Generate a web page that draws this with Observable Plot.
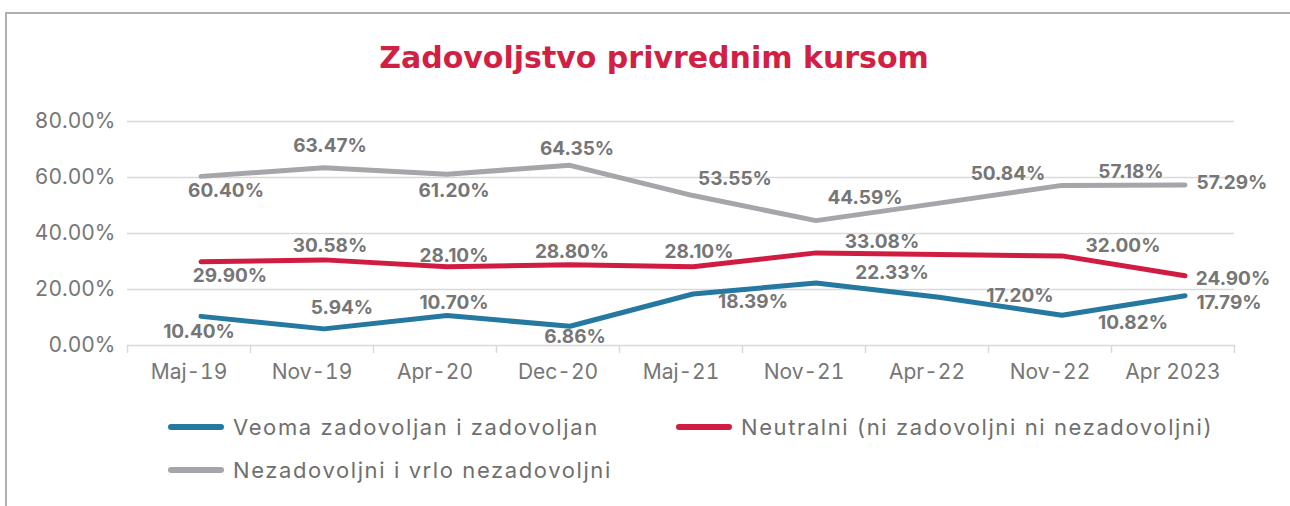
<!DOCTYPE html>
<html>
<head>
<meta charset="utf-8">
<script src="https://cdn.jsdelivr.net/npm/d3@7"></script>
<script src="https://cdn.jsdelivr.net/npm/@observablehq/plot@0.6"></script>
<style>
  html, body { margin: 0; padding: 0; background: #fff; }
  #frame { position: relative; width: 1290px; height: 506px; overflow: hidden; font-family: Inter, "Open Sans", sans-serif; }
  #border { position: absolute; left: 5px; top: 12px; right: -10px; bottom: -10px; border-top: 2px solid #b0b0b0; border-left: 2px solid #b0b0b0; }
  #title { position: relative; height: 100px; box-sizing: border-box; padding-top: 40px; line-height: 36px; text-align: center; font-family: "DejaVu Sans", Inter, sans-serif; font-size: 30px; font-weight: 700; color: #d21f44; padding-left: 18px; }
  #chart { position: relative; height: 300px; }
  #legend { position: relative; height: 106px; }
  .item { position: absolute; display: flex; align-items: center; height: 30px; font-size: 22px; letter-spacing: 1.6px; color: #6f6f6f; white-space: nowrap; }
  .sw { width: 56px; height: 6px; border-radius: 3px; margin-right: 9px; }
</style>
</head>
<body>
<div id="frame">
  <div id="border"></div>
  <div id="title">Zadovoljstvo privrednim kursom</div>
  <div id="chart"></div>
  <div id="legend"></div>
</div>
<script>
// ---- data ----
const categories = ["Maj-19", "Nov-19", "Apr-20", "Dec-20", "Maj-21", "Nov-21", "Apr-22", "Nov-22", "Apr 2023"];
const seriesNames = ["Veoma zadovoljan i zadovoljan", "Neutralni (ni zadovoljni ni nezadovoljni)", "Nezadovoljni i vrlo nezadovoljni"];
const satisfied   = [10.40, 5.94, 10.70, 6.86, 18.39, 22.33, 17.20, 10.82, 17.79];
const neutral     = [29.90, 30.58, 28.10, 28.80, 28.10, 33.08, 32.50, 32.00, 24.90]; // Apr-22 unlabeled, estimated
const dissatisfied = [60.40, 63.47, 61.20, 64.35, 53.55, 44.59, 50.84, 57.18, 57.29];
const neutralLabelShown = [true, true, true, true, true, true, false, true, true];
const yTicks = [0, 20, 40, 60, 80];

// ---- styling / label layout (pixel offsets from each point) ----
const colors = ["#25789f", "#d11c42", "#a6a6aa"];
const labelOffsets = [
  [[-2, 16], [18, -21], [7, -13], [5, 11], [60, 8], [76, -10], [81, -1], [71, 8], [44, 7]],
  [[29, 14], [6, -14], [7, -11], [2, -13], [6, -15], [66, -11], [0, 0], [61, -10], [48, 3]],
  [[25, 15], [6, -22], [7, 17], [7, -16], [42, -17], [49, -23], [69, -29], [69, -13], [47, -2]]
];
const lineShift = 12;

const allSeries = [satisfied, neutral, dissatisfied];
const rows = [];
allSeries.forEach((vals, s) => vals.forEach((v, i) => rows.push({series: seriesNames[s], s, i, x: i + 0.5, value: v,
  show: s !== 1 || neutralLabelShown[i]})));

const fmt = v => v.toFixed(2) + "%";
const labelMarks = rows.filter(d => d.show).map(d => Plot.text([d], {
  x: "x", y: "value", text: r => fmt(r.value),
  dx: lineShift + labelOffsets[d.s][d.i][0], dy: labelOffsets[d.s][d.i][1],
  fill: "#767676", fontSize: 19, fontWeight: 700, textAnchor: "middle"
}));

const chart = Plot.plot({
  width: 1290,
  height: 300,
  marginTop: 21,
  marginBottom: 55,
  marginLeft: 127,
  marginRight: 56,
  style: {fontFamily: "Inter, 'Open Sans', sans-serif", background: "transparent", overflow: "visible"},
  x: {domain: [0, categories.length]},
  y: {domain: [0, 80]},
  color: {domain: seriesNames, range: colors},
  marks: [
    Plot.gridY(yTicks.slice(1), {stroke: "#d9d9d9", strokeOpacity: 1, strokeWidth: 1.5}),
    Plot.ruleY([0], {stroke: "#d9d9d9", strokeWidth: 1.5}),
    Plot.axisX(d3.range(categories.length + 1), {tickSize: 8, stroke: "#d9d9d9", strokeWidth: 1.5, tickFormat: () => "", label: null}),
    Plot.axisX(categories.map((c, i) => i + 0.5), {tickSize: 0, tickPadding: 19, tickFormat: d => categories[Math.floor(d)],
      fontSize: 21, fill: "#767676", label: null}),
    Plot.axisY(yTicks, {tickSize: 0, tickPadding: 12, tickFormat: d => d.toFixed(2) + "%", fontSize: 21, fill: "#767676", label: null}),
    Plot.line(rows, {x: "x", y: "value", z: "series", stroke: "series", strokeWidth: 5, dx: lineShift,
      strokeLinejoin: "round", strokeLinecap: "round"}),
    ...labelMarks
  ]
});
document.getElementById("chart").appendChild(chart);

// legend
const legend = document.getElementById("legend");
const legendPos = [[168, 12], [676, 12], [168, 55]];
seriesNames.forEach((name, s) => {
  const it = document.createElement("div");
  it.className = "item";
  it.style.left = legendPos[s][0] + "px";
  it.style.top = legendPos[s][1] + "px";
  const sw = document.createElement("div");
  sw.className = "sw";
  sw.style.background = colors[s];
  const tx = document.createElement("span");
  tx.textContent = name;
  it.appendChild(sw); it.appendChild(tx);
  legend.appendChild(it);
});
</script>
</body>
</html>
